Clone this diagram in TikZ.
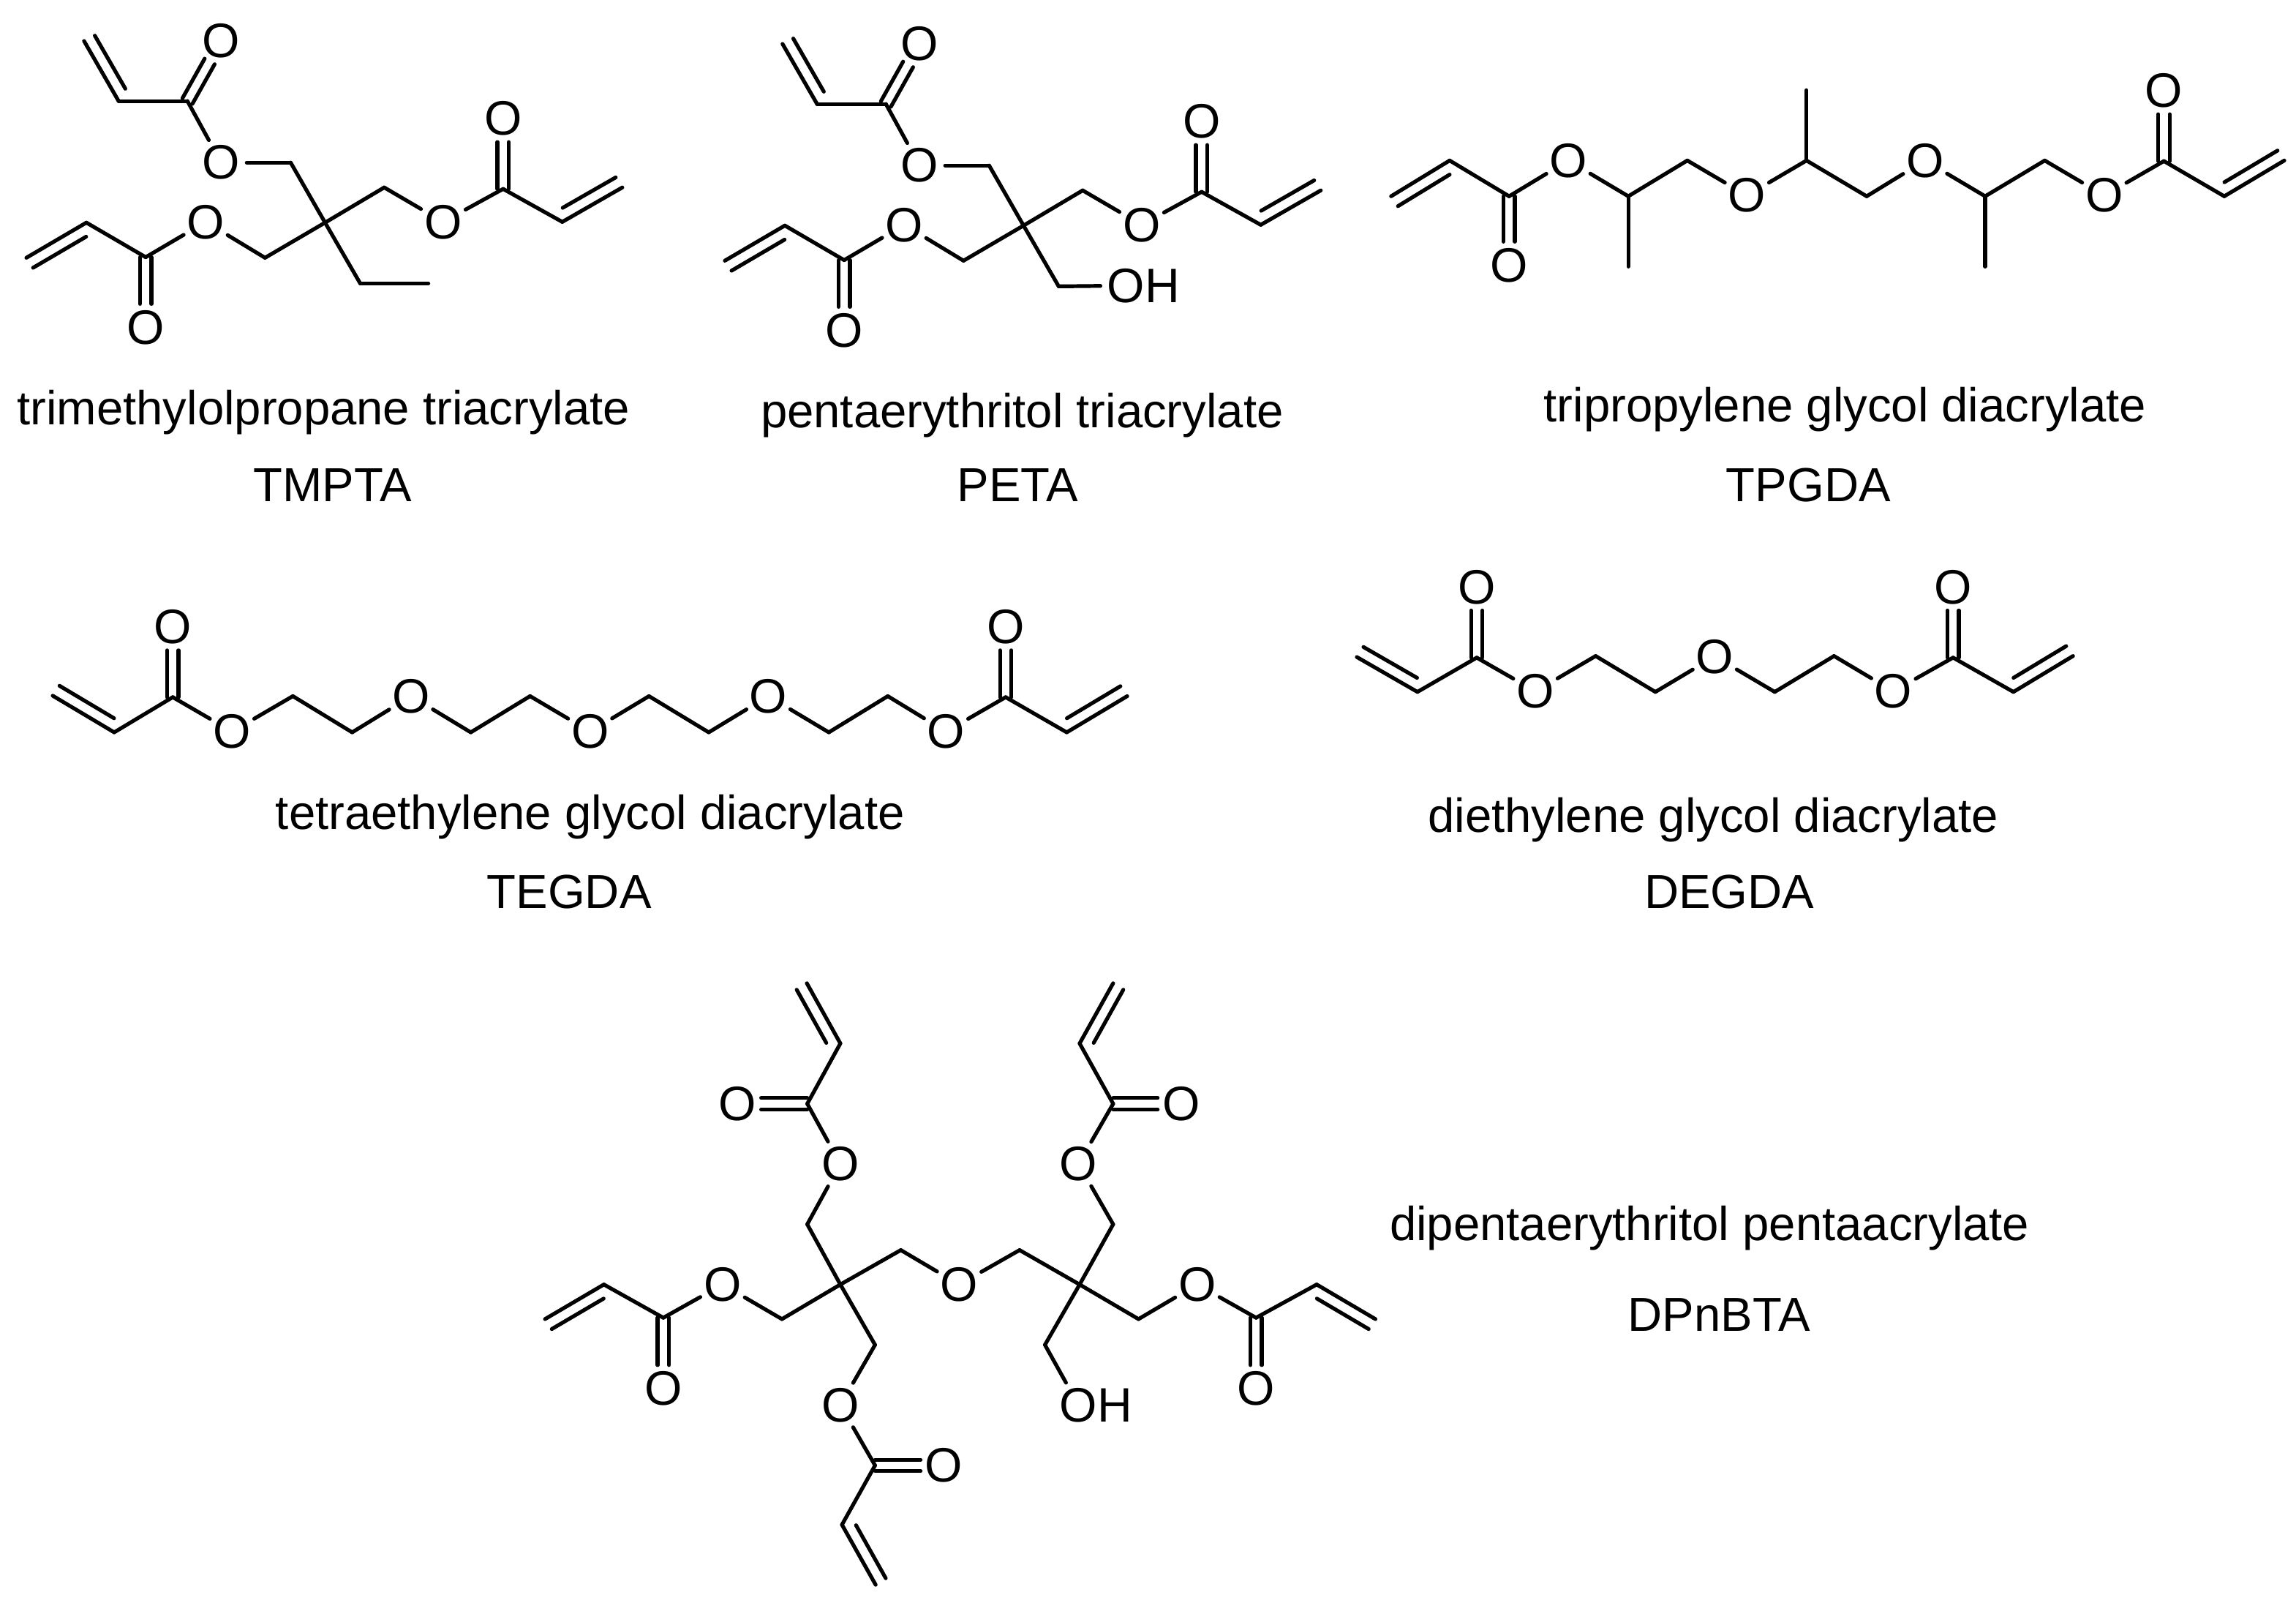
\documentclass[tikz,border=0pt]{standalone}
\usepackage{fontspec}
\setmainfont{Liberation Sans}
\usetikzlibrary{calc}
\newcommand\cpt[3]{\coordinate (#1) at (#2,#3);}
\newcommand\oxy[3]{\node[oatom] (#1) at (#2,#3) {O};}
\newcommand\hydroxy[3]{\node[oatom] (#1) at (#2,#3) {O\rlap{H}};}
\newcommand\sbond[2]{\draw[bondline] (#1) -- (#2);}
\newcommand\cobond[2]{%
  \draw[bondline,shorten >=16pt] ($(#1)!3.9pt!90:(#2)$) -- ($(#2)!3.9pt!-90:(#1)$);
  \draw[bondline,shorten >=16pt] ($(#1)!3.9pt!-90:(#2)$) -- ($(#2)!3.9pt!90:(#1)$);}
% CH, CH2, side of the short line (90 or -90)
\newcommand\vinyl[3]{%
  \draw[bondline] (#1) -- (#2);
  \draw[bondline] ($(#1)!5pt!(#2)!8.2pt!#3:(#2)$) -- ($(#2)!0.5pt!(#1)!8.2pt!-#3:(#1)$);}
% core shared by TMPTA and PETA; #1 is a name prefix
\newcommand\triacrylatecore[1]{%
  \cpt{#1v1}{57.4}{28}\cpt{#1h1}{81}{69}\cpt{#1c1}{128}{69}\oxy{#1d1}{151}{28}\oxy{#1o1}{151}{111}
  \cpt{#1m1}{198.5}{111}\cpt{#1q}{222}{152}
  \cpt{#1m2}{262.4}{128}\oxy{#1o2}{302.6}{151.5}\cpt{#1c2}{343.6}{129}\oxy{#1d2}{343.6}{81}
  \cpt{#1h2}{384}{151.5}\cpt{#1v2}{425}{128}
  \cpt{#1m3}{181}{176}\oxy{#1o3}{140.5}{151.5}\cpt{#1c3}{99.5}{175.6}\oxy{#1d3}{99.5}{223.5}
  \cpt{#1h3}{59}{152}\cpt{#1v3}{18}{176}\cpt{#1m4}{246}{193.5}
  \vinyl{#1h1}{#1v1}{-90}\sbond{#1h1}{#1c1}\cobond{#1c1}{#1d1}\sbond{#1c1}{#1o1}\sbond{#1o1}{#1m1}\sbond{#1m1}{#1q}
  \sbond{#1q}{#1m2}\sbond{#1m2}{#1o2}\sbond{#1o2}{#1c2}\cobond{#1c2}{#1d2}\sbond{#1c2}{#1h2}\vinyl{#1h2}{#1v2}{90}
  \sbond{#1q}{#1m3}\sbond{#1m3}{#1o3}\sbond{#1o3}{#1c3}\cobond{#1c3}{#1d3}\sbond{#1c3}{#1h3}\vinyl{#1h3}{#1v3}{90}
  \sbond{#1q}{#1m4}}
\tikzset{
  bondline/.style={line width=2.6pt,line cap=round,line join=round,black},
  oatom/.style={circle,inner sep=0pt,minimum size=32pt,font=\fontsize{33}{36}\selectfont,text=black},
  caption/.style={anchor=base,inner sep=0pt,font=\fontsize{32.6}{36}\selectfont,text=black}
}
\begin{document}
\begin{tikzpicture}[x=1pt,y=-1pt]
\fill[white] (0,0) rectangle (1568,1094);
\useasboundingbox (0,0) rectangle (1568,1094);
% TMPTA
\triacrylatecore{a}
\cpt{aet}{292.5}{193.5}\sbond{am4}{aet}
\node[caption] (atitle) at (221,290) {trimethylolpropane triacrylate};
\node[caption] (alabel) at (227,342.5) {TMPTA};
% PETA
\begin{scope}[shift={(477,2)}]
\triacrylatecore{b}
\hydroxy{boh}{292}{193}\sbond{bm4}{boh}
\end{scope}
\node[caption] (btitle) at (698,292) {pentaerythritol triacrylate};
\node[caption] (blabel) at (695,342.5) {PETA};
% TPGDA
\cpt{cv1}{950}{134}\cpt{ch1}{990}{109.6}\cpt{cc1}{1030.6}{134}\oxy{cd1}{1030.6}{181}\oxy{co1}{1071}{109.6}
\cpt{cm1}{1112}{134}\cpt{cme1}{1112}{182}\cpt{cm2}{1152.3}{109.6}\oxy{co2}{1193}{133.5}
\cpt{cm3}{1233.7}{109.6}\cpt{cme2}{1233.7}{61.6}\cpt{cm4}{1274.8}{134}\oxy{co3}{1314.6}{109.6}
\cpt{cm5}{1355.7}{134}\cpt{cme3}{1355.7}{182}\cpt{cm6}{1396.4}{109.6}\oxy{co4}{1437}{133.5}
\cpt{cc2}{1477.8}{110}\oxy{cd2}{1477.8}{62}\cpt{ch2}{1519}{134}\cpt{cv2}{1560}{109.6}
\vinyl{ch1}{cv1}{90}\sbond{ch1}{cc1}\cobond{cc1}{cd1}\sbond{cc1}{co1}\sbond{co1}{cm1}\sbond{cm1}{cme1}\sbond{cm1}{cm2}\sbond{cm2}{co2}\sbond{co2}{cm3}\sbond{cm3}{cme2}\sbond{cm3}{cm4}\sbond{cm4}{co3}\sbond{co3}{cm5}\sbond{cm5}{cme3}\sbond{cm5}{cm6}\sbond{cm6}{co4}\sbond{co4}{cc2}\cobond{cc2}{cd2}\sbond{cc2}{ch2}\vinyl{ch2}{cv2}{90}
\node[caption] (ctitle) at (1260,288) {tripropylene glycol diacrylate};
\node[caption] (clabel) at (1235,342.5) {TPGDA};
% TEGDA
\cpt{dv1}{36}{475}\cpt{dh1}{78}{500}\cpt{dc1}{118}{476}\oxy{dd1}{118}{428}\oxy{do1}{158.5}{499.5}
\cpt{dm1}{200}{475.3}\cpt{dm2}{240.5}{500}\oxy{do2}{280.7}{475.3}\cpt{dm3}{321.5}{500}\cpt{dm4}{362}{475.3}
\oxy{do3}{403}{499.5}\cpt{dm5}{443.2}{475.3}\cpt{dm6}{484}{500}\oxy{do4}{524.7}{475.3}\cpt{dm7}{566}{500}\cpt{dm8}{606.3}{475.3}
\oxy{do5}{646}{499.5}\cpt{dc2}{686.8}{476}\oxy{dd2}{686.8}{428}\cpt{dh2}{728.5}{500}\cpt{dv2}{769.8}{475.3}
\vinyl{dh1}{dv1}{-90}\sbond{dh1}{dc1}\cobond{dc1}{dd1}\sbond{dc1}{do1}\sbond{do1}{dm1}\sbond{dm1}{dm2}\sbond{dm2}{do2}\sbond{do2}{dm3}\sbond{dm3}{dm4}\sbond{dm4}{do3}\sbond{do3}{dm5}\sbond{dm5}{dm6}\sbond{dm6}{do4}\sbond{do4}{dm7}\sbond{dm7}{dm8}\sbond{dm8}{do5}\sbond{do5}{dc2}\cobond{dc2}{dd2}\sbond{dc2}{dh2}\vinyl{dh2}{dv2}{90}
\node[caption] (dtitle) at (403,566) {tetraethylene glycol diacrylate};
\node[caption] (dlabel) at (388.7,620) {TEGDA};
% DEGDA
\cpt{ev1}{926.6}{448.6}\cpt{eh1}{968}{472.4}\cpt{ec1}{1008.5}{449}\oxy{ed1}{1008.5}{400.8}\oxy{eo1}{1048.6}{472}
\cpt{em1}{1089.7}{447.9}\cpt{em2}{1130.5}{472.4}\oxy{eo2}{1171}{448.2}\cpt{em3}{1212}{472.4}\cpt{em4}{1252.5}{447.9}
\oxy{eo3}{1293}{472}\cpt{ec2}{1333.8}{449}\oxy{ed2}{1333.8}{400.8}\cpt{eh2}{1375}{472.4}\cpt{ev2}{1415.7}{447.9}
\vinyl{eh1}{ev1}{-90}\sbond{eh1}{ec1}\cobond{ec1}{ed1}\sbond{ec1}{eo1}\sbond{eo1}{em1}\sbond{em1}{em2}\sbond{em2}{eo2}\sbond{eo2}{em3}\sbond{em3}{em4}\sbond{em4}{eo3}\sbond{eo3}{ec2}\cobond{ec2}{ed2}\sbond{ec2}{eh2}\vinyl{eh2}{ev2}{90}
\node[caption] (etitle) at (1170,568) {diethylene glycol diacrylate};
\node[caption] (elabel) at (1181,620) {DEGDA};
% DPnBTA
\cpt{fq1}{573.9}{877}\cpt{fq2}{737.3}{877}
\cpt{fm1}{551.3}{835.9}\oxy{fo1}{573.9}{794.7}\cpt{fc1}{551.3}{753.6}\oxy{fd1}{503.8}{753.6}\cpt{fh1}{573.9}{712.4}\cpt{fv1}{551}{671.3}
\cpt{fm2}{615.2}{853.5}\oxy{fo2}{655}{877}\cpt{fm3}{696.3}{853.5}
\cpt{fm4}{534}{900.6}\oxy{fo4}{493.5}{877}\cpt{fc4}{453}{899.7}\oxy{fd4}{453}{948}\cpt{fh4}{412.4}{877}\cpt{fv4}{372.2}{900.6}
\cpt{fm5}{597.6}{918.2}\oxy{fo5}{573.9}{959.3}\cpt{fc5}{597.6}{1000.5}\oxy{fd5}{644.7}{1000.5}\cpt{fh5}{575}{1041}\cpt{fv5}{598}{1082}
\cpt{fm6}{760.2}{835.9}\oxy{fo6}{736.5}{794.7}\cpt{fc6}{760.2}{753.6}\oxy{fd6}{806.6}{753.6}\cpt{fh6}{737.3}{712.4}\cpt{fv6}{760.2}{671.3}
\cpt{fm7}{777.5}{900.6}\oxy{fo7}{817.6}{877}\cpt{fc7}{857.8}{899.7}\oxy{fd7}{857.8}{948}\cpt{fh7}{899.2}{877}\cpt{fv7}{939.3}{900.6}
\cpt{fm8}{713.6}{918.2}\hydroxy{foh}{736.5}{959.3}
\vinyl{fh1}{fv1}{90}\sbond{fh1}{fc1}\cobond{fc1}{fd1}\sbond{fc1}{fo1}\sbond{fo1}{fm1}\sbond{fm1}{fq1}
\sbond{fq1}{fm2}\sbond{fm2}{fo2}\sbond{fo2}{fm3}\sbond{fm3}{fq2}
\sbond{fq1}{fm4}\sbond{fm4}{fo4}\sbond{fo4}{fc4}\cobond{fc4}{fd4}\sbond{fc4}{fh4}\vinyl{fh4}{fv4}{90}
\sbond{fq1}{fm5}\sbond{fm5}{fo5}\sbond{fo5}{fc5}\cobond{fc5}{fd5}\sbond{fc5}{fh5}\vinyl{fh5}{fv5}{90}
\sbond{fq2}{fm6}\sbond{fm6}{fo6}\sbond{fo6}{fc6}\cobond{fc6}{fd6}\sbond{fc6}{fh6}\vinyl{fh6}{fv6}{-90}
\sbond{fq2}{fm7}\sbond{fm7}{fo7}\sbond{fo7}{fc7}\cobond{fc7}{fd7}\sbond{fc7}{fh7}\vinyl{fh7}{fv7}{-90}
\sbond{fq2}{fm8}\sbond{fm8}{foh}
\node[caption] (ftitle) at (1167.5,847) {dipentaerythritol pentaacrylate};
\node[caption] (flabel) at (1174,909) {DPnBTA};
\end{tikzpicture}
\end{document}
